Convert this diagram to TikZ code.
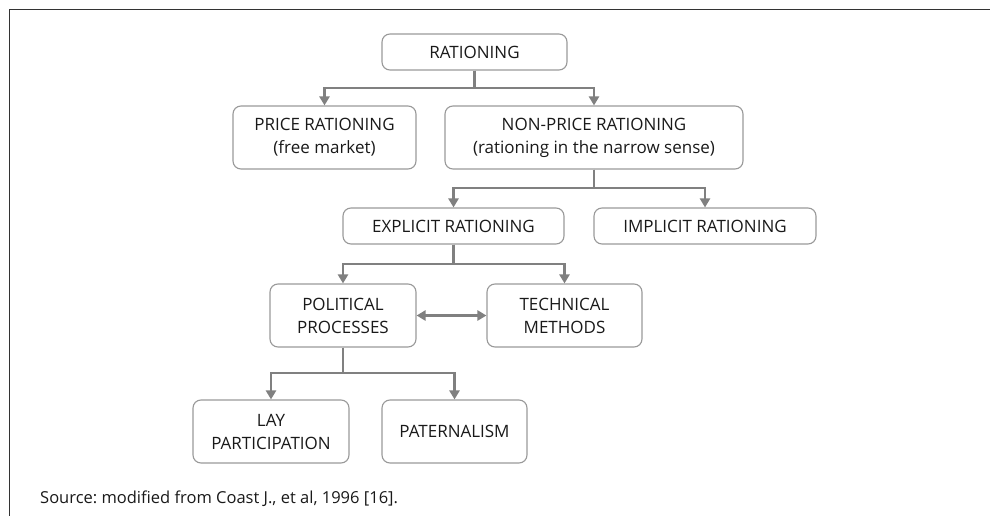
\documentclass[tikz,border=0pt]{standalone}
\usepackage{fontspec}
\setmainfont{Open Sans}
\usetikzlibrary{arrows.meta}
\frenchspacing

\begin{document}
\begin{tikzpicture}[x=1pt,y=-1pt,
        box/.style={draw=black!40,line width=1.1pt,rounded corners=8pt,align=center,text=black!90,
            font=\fontsize{17}{23}\selectfont,inner sep=0pt,minimum height=36pt,minimum width=#1},
        two/.style={minimum height=63pt},
        conn/.style={draw=black!50,line width=2.6pt,-{Triangle[length=9pt,width=10pt]}}]
        \useasboundingbox (0,0) rectangle (990,516);
        \draw[line width=1pt,black!80] (9,516) -- (9,10) -- (990,10);
        \node[box=185] (r) at (474.5,52) {RATIONING};
        \node[box=183,two] (pr) at (324.5,137.5) {PRICE RATIONING\\(free market)};
        \node[box=298,two] (np) at (594,137.5) {NON-PRICE RATIONING\\(rationing in the narrow sense)};
        \node[box=221] (ex) at (453.5,226) {EXPLICIT RATIONING};
        \node[box=222] (im) at (705,226) {IMPLICIT RATIONING};
        \node[box=146,two] (po) at (343,315.5) {POLITICAL\\PROCESSES};
        \node[box=155,two] (te) at (564.5,315.5) {TECHNICAL\\METHODS};
        \node[box=156,two] (la) at (271,431.5) {LAY\\PARTICIPATION};
        \node[box=145,two] (pa) at (454.5,431.5) {PATERNALISM};
        \node[anchor=base west,inner sep=0pt,text=black!90,font=\fontsize{16.5}{19}\selectfont] (src) at (40,503) {Source: modified from Coast J., et al, 1996 [16].};
        \coordinate (j1) at (0,88);
        \coordinate (j2) at (0,188);
        \coordinate (j3) at (0,264);
        \coordinate (j4) at (0,373);
        \draw[conn] (r.south) -- (r.south |- j1) -| (pr.north);
        \draw[conn] (r.south) -- (r.south |- j1) -| (np.north);
        \draw[conn] (np.south) -- (np.south |- j2) -| (ex.north);
        \draw[conn] (np.south) -- (np.south |- j2) -| (im.north);
        \draw[conn] (ex.south) -- (ex.south |- j3) -| (po.north);
        \draw[conn] (ex.south) -- (ex.south |- j3) -| (te.north);
        \draw[conn] (po.south) -- (po.south |- j4) -| (la.north);
        \draw[conn] (po.south) -- (po.south |- j4) -| (pa.north);
        \draw[conn,{Triangle[length=9pt,width=10pt]}-{Triangle[length=9pt,width=10pt]}] (po.east) -- (te.west);
    \end{tikzpicture}
\end{document}
